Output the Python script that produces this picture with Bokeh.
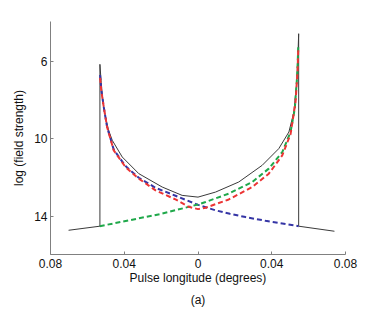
from bokeh.plotting import figure
from bokeh.models import Range1d, Title, FixedTicker
from bokeh.embed import file_html
from bokeh.resources import INLINE

# ---- data ----
black_x = [-0.0702, -0.0532, -0.0532, -0.0525, -0.0520, -0.0512, -0.0502, -0.0485, -0.0465,
           -0.0411, -0.0321, -0.0194, -0.0086, 0.0, 0.0095, 0.0221, 0.0348, 0.0438,
           0.0493, 0.0520, 0.0534, 0.0541, 0.0546, 0.0546, 0.0740]
black_y = [14.71, 14.50, 6.15, 7.10, 7.66, 8.30, 8.87, 9.55, 10.07,
           10.93, 11.79, 12.48, 12.91, 13.00, 12.74, 12.22, 11.36, 10.50,
           9.64, 8.61, 7.24, 6.00, 4.57, 14.50, 14.76]

blue_x = [-0.0531, -0.0524, -0.0511, -0.0493, -0.0457, -0.0393, -0.0321, -0.0230,
          -0.0122, 0.0, 0.0095, 0.0173, 0.0258, 0.0366, 0.0546]
blue_y = [6.70, 7.50, 8.36, 9.39, 10.55, 11.40, 12.00, 12.52,
          12.93, 13.40, 13.68, 13.86, 14.03, 14.22, 14.50]

green_x = [-0.0533, -0.0375, -0.0194, 0.0, 0.0041, 0.0167, 0.0294, 0.0384,
           0.0457, 0.0502, 0.0525, 0.0538, 0.0544]
green_y = [14.50, 14.20, 13.85, 13.38, 13.25, 12.82, 12.22, 11.53,
           10.68, 9.64, 8.44, 6.72, 5.20]

red_x = [-0.0531, -0.0524, -0.0511, -0.0493, -0.0457, -0.0393, -0.0321, -0.0230,
         -0.0122, -0.0050, 0.0, 0.0041, 0.0167, 0.0294, 0.0384, 0.0457, 0.0502,
         0.0529, 0.0540, 0.0544]
red_y = [6.85, 7.55, 8.36, 9.39, 10.59, 11.45, 12.05, 12.65,
         13.12, 13.50, 13.62, 13.55, 13.12, 12.48, 11.79, 10.85, 9.75,
         8.10, 6.50, 5.35]

x_ticks = [-0.08, -0.04, 0.0, 0.04, 0.08]
x_tick_labels = ["0.08", "0.04", "0", "0.04", "0.08"]
y_ticks = [6, 10, 14]
y_tick_labels = ["6", "10", "14"]

FONT = "Liberation Sans"

p = figure(width=382, height=311, output_backend="svg", toolbar_location=None,
           x_range=Range1d(-0.08, 0.08), y_range=Range1d(15.96, 3.94),
           min_border_left=50, min_border_right=37, min_border_top=21,
           min_border_bottom=57)
p.outline_line_color = None
p.xgrid.visible = False
p.ygrid.visible = False
p.background_fill_color = "white"
p.border_fill_color = "white"

for ax in (p.xaxis[0], p.yaxis[0]):
    ax.axis_line_color = "#808080"
    ax.major_tick_line_color = "#808080"
    ax.minor_tick_line_color = None
    ax.major_tick_in = 3
    ax.major_tick_out = 0
    ax.major_label_text_font = FONT
    ax.major_label_text_font_size = "12px"
    ax.major_label_text_color = "#111111"
    ax.axis_label_text_font = FONT
    ax.axis_label_text_font_size = "12px"
    ax.axis_label_text_font_style = "normal"
    ax.axis_label_text_color = "#111111"

p.xaxis.ticker = FixedTicker(ticks=x_ticks)
p.xaxis.major_label_overrides = {t: l for t, l in zip(x_ticks, x_tick_labels)}
p.xaxis.axis_label = "Pulse longitude (degrees)"
p.xaxis.major_label_standoff = 4
p.xaxis.axis_label_standoff = 0

p.yaxis.ticker = FixedTicker(ticks=y_ticks)
p.yaxis.major_label_overrides = {t: l for t, l in zip(y_ticks, y_tick_labels)}
p.yaxis.axis_label = "log (field strength)"
p.yaxis.major_label_standoff = 3
p.yaxis.axis_label_standoff = 5

p.line(black_x, black_y, line_color="#3a3a3a", line_width=1)
p.line(blue_x, blue_y, line_color="#3535a5", line_width=2, line_dash="5 3")
p.line(green_x, green_y, line_color="#1fa84a", line_width=2, line_dash="5 3")
p.line(red_x, red_y, line_color="#ec3434", line_width=2, line_dash="5 3")

cap = Title(text="(a)", align="center", vertical_align="bottom", text_font=FONT,
            text_font_size="12px", text_font_style="normal", text_color="#111111",
            standoff=6)
p.add_layout(cap, "below")

open("out.html", "w").write(file_html(p, INLINE))
